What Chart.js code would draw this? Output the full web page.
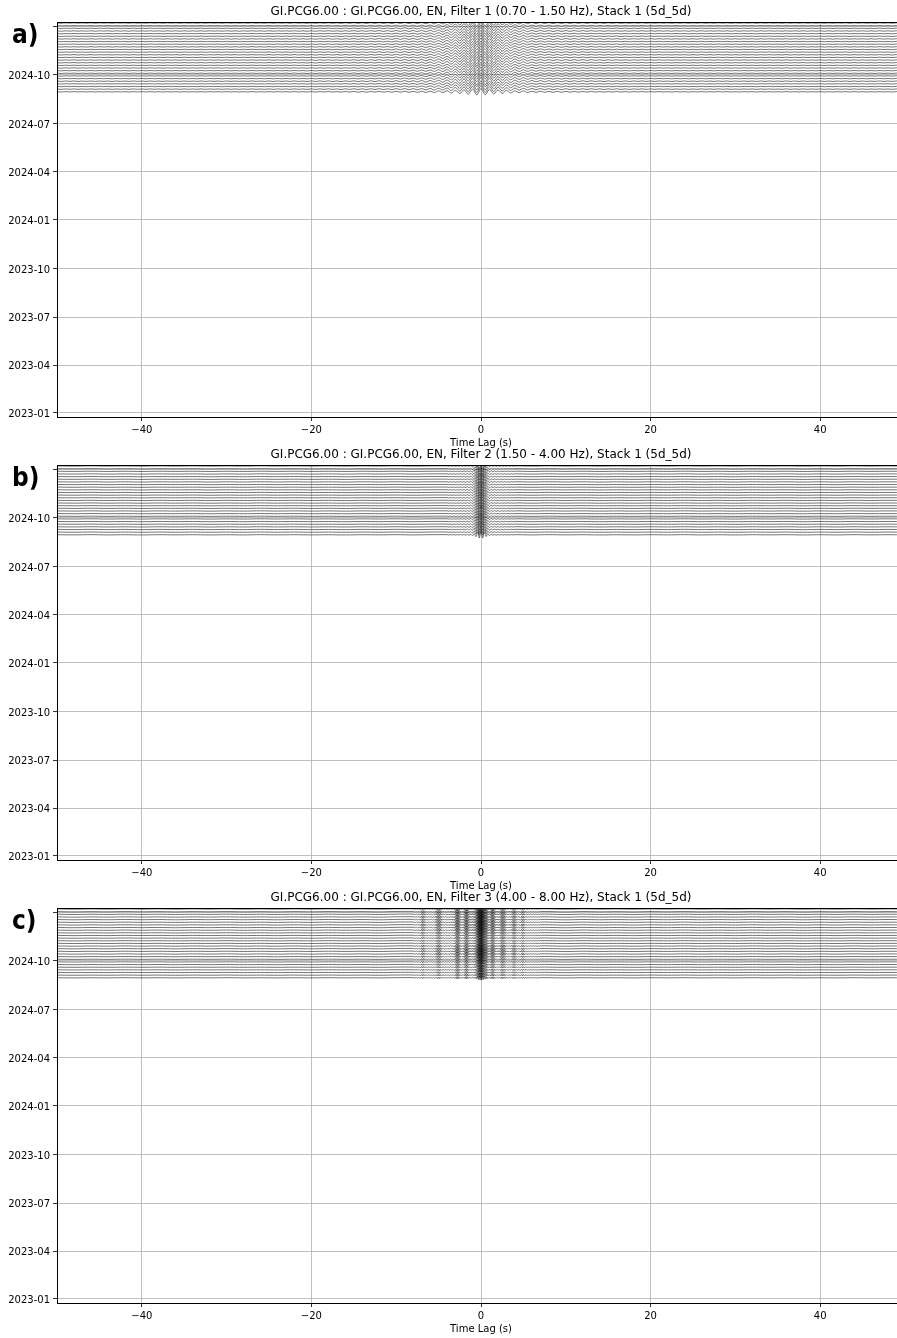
<!DOCTYPE html>
<html>
<head>
<meta charset="utf-8">
<script src="https://cdn.jsdelivr.net/npm/chart.js@4.4.1/dist/chart.umd.min.js"></script>
<style>
  html, body { margin: 0; padding: 0; background: #fff; overflow: hidden; width: 897px; height: 1338px; }
  .panel { position: absolute; left: 0; width: 905px; height: 449px; }
  .tag { position: absolute; left: 12px; font: bold 26px 'DejaVu Sans Condensed', 'DejaVu Sans', sans-serif; color: #000; line-height: 30px; z-index: 5; }
</style>
</head>
<body>
<div class="panel" style="top:0px"><canvas id="chartA"></canvas></div>
<div class="panel" style="top:443px"><canvas id="chartB"></canvas></div>
<div class="panel" style="top:886px"><canvas id="chartC"></canvas></div>
<div class="tag" style="top:19px">a)</div>
<div class="tag" style="top:462px">b)</div>
<div class="tag" style="top:905px">c)</div>
<script>
// ---- data ----
const titles = [
  'GI.PCG6.00 : GI.PCG6.00, EN, Filter 1 (0.70 - 1.50 Hz), Stack 1 (5d_5d)',
  'GI.PCG6.00 : GI.PCG6.00, EN, Filter 2 (1.50 - 4.00 Hz), Stack 1 (5d_5d)',
  'GI.PCG6.00 : GI.PCG6.00, EN, Filter 3 (4.00 - 8.00 Hz), Stack 1 (5d_5d)'
];

// stack dates (one trace each), bottom to top
const stackDates = [
  '2024-08-30', '2024-09-04', '2024-09-09', '2024-09-14', '2024-09-19', '2024-09-24',
  '2024-09-29', '2024-10-04', '2024-10-09', '2024-10-14', '2024-10-19', '2024-10-24',
  '2024-10-29', '2024-11-03', '2024-11-08', '2024-11-13', '2024-11-18', '2024-11-23',
  '2024-11-28', '2024-12-03', '2024-12-08', '2024-12-13', '2024-12-18', '2024-12-23',
  '2024-12-28', '2025-01-02', '2025-01-07'
];

const yTickDates = ['2023-01-01', '2023-04-01', '2023-07-01', '2023-10-01', '2024-01-01',
  '2024-04-01', '2024-07-01', '2024-10-01', '2025-01-01'];
const yTickLabels = ['2023-01', '2023-04', '2023-07', '2023-10', '2024-01',
  '2024-04', '2024-07', '2024-10', ''];
const yRange = ['2022-12-24', '2025-01-09'];

const xTicks = [-40, -20, 0, 20, 40];
const xRange = [-50, 50];

// Filter 1 correlation, samples every 0.5 s from -50 s
const wave1 = [
  0.05,-0.06,0.05,-0.04,0.06,-0.05,0.04,-0.05,0.06,-0.06,0.05,-0.04,0.05,-0.06,0.05,-0.04,0.05,-0.06,0.06,-0.05,
  0.04,-0.05,0.06,-0.05,0.05,-0.06,0.05,-0.04,0.05,-0.06,0.06,-0.05,0.04,-0.05,0.06,-0.06,0.05,-0.04,0.05,-0.06,
  0.06,-0.05,0.05,-0.06,0.05,-0.06,0.07,-0.05,0.04,-0.06,0.07,-0.07,0.06,-0.05,0.06,-0.07,0.08,-0.06,0.05,-0.08,
  0.07,-0.09,0.08,-0.07,0.09,-0.08,0.07,-0.10,0.09,-0.08,0.11,-0.10,0.09,-0.12,0.11,-0.10,0.13,-0.12,0.11,-0.14,
  0.16,-0.14,0.18,-0.16,0.15,-0.19,0.18,-0.21,0.20,-0.23,0.28,-0.27,0.33,-0.38,0.46,-0.54,0.62,-0.72,0.84,-0.93,
  1.00,
  -0.92,0.83,-0.70,0.60,-0.50,0.42,-0.35,0.30,-0.26,0.27,-0.22,0.20,-0.18,0.19,-0.16,0.15,-0.17,0.14,-0.16,0.14,
  -0.12,0.13,-0.11,0.12,-0.10,0.11,-0.09,0.08,-0.10,0.09,-0.08,0.09,-0.08,0.07,-0.08,0.07,-0.06,0.08,-0.07,0.07,
  -0.06,0.07,-0.05,0.05,-0.07,0.06,-0.05,0.06,-0.07,0.05,-0.06,0.07,-0.06,0.05,-0.06,0.07,-0.05,0.06,-0.07,0.05,
  -0.06,0.06,-0.04,0.05,-0.07,0.06,-0.05,0.06,-0.05,0.04,-0.06,0.07,-0.06,0.05,-0.05,0.06,-0.06,0.04,-0.05,0.06,
  -0.07,0.05,-0.06,0.05,-0.04,0.06,-0.07,0.06,-0.05,0.05,-0.06,0.04,-0.06,0.07,-0.05,0.05,-0.06,0.06,-0.04,0.05
];

// Filter 2: background every 2 s from -50 s, core every 0.2 s from -4 s
const wave2Bg = [
  0.03,-0.02,0.04,-0.03,0.02,-0.04,0.03,-0.02,0.03,-0.04,0.02,-0.03,0.04,-0.02,0.03,-0.03,0.02,-0.04,0.03,-0.02,
  0.04,-0.03,0.03,-0.04,0.05,0.00,-0.05,0.04,-0.03,0.04,-0.02,0.03,-0.04,0.02,-0.03,0.03,-0.02,0.04,-0.03,0.02,
  -0.04,0.03,-0.02,0.03,-0.04,0.02,-0.03,0.04,-0.02,0.03,-0.03
];
const wave2Core = [
  0.04,-0.05,0.05,-0.06,0.06,-0.07,0.07,-0.08,0.08,-0.09,
  0.10,-0.12,0.13,-0.15,0.18,-0.24,0.35,-0.55,0.80,-0.95,
  1.00,
  -0.94,0.78,-0.52,0.33,-0.22,0.17,-0.14,0.12,-0.11,0.10,
  -0.09,0.08,-0.08,0.07,-0.06,0.06,-0.05,0.05,-0.04,0.04
];

// Filter 3: background every 2 s from -50 s, core every 0.1 s from -8 s
const wave3Bg = [
  0.03,-0.04,0.02,-0.03,0.04,-0.02,0.03,-0.04,0.03,-0.02,0.04,-0.03,0.02,-0.04,0.03,-0.03,0.04,-0.02,0.03,-0.04,
  0.05,-0.04,0.06,-0.05,0.05,0.00,-0.05,0.05,-0.06,0.04,-0.05,0.04,-0.03,0.02,-0.04,0.03,-0.02,0.04,-0.03,0.02,
  -0.03,0.04,-0.02,0.03,-0.04,0.02,-0.03,0.04,-0.02,0.03,-0.03
];
const wave3Core = [
  0.06,-0.08,0.07,-0.05,0.08,-0.07,0.06,-0.09,0.10,-0.16,
  0.24,-0.28,0.26,-0.22,0.18,-0.12,0.09,-0.07,0.08,-0.06,
  0.09,-0.08,0.07,-0.10,0.08,-0.12,0.15,-0.20,0.26,-0.30,
  0.34,-0.32,0.28,-0.22,0.15,-0.11,0.09,-0.12,0.10,-0.08,
  0.11,-0.13,0.10,-0.12,0.14,-0.11,0.13,-0.15,0.12,-0.20,
  0.30,-0.40,0.45,-0.42,0.36,-0.25,0.17,-0.14,0.12,-0.15,
  0.22,-0.32,0.42,-0.46,0.40,-0.30,0.20,-0.16,0.18,-0.15,
  0.20,-0.18,0.22,-0.25,0.32,-0.45,0.62,-0.80,0.92,-0.98,
  1.00,
  -0.96,0.88,-0.72,0.55,-0.50,0.46,-0.38,0.25,-0.20,0.18,
  -0.22,0.32,-0.40,0.42,-0.36,0.28,-0.18,0.14,-0.12,0.15,
  -0.13,0.16,-0.24,0.32,-0.36,0.34,-0.28,0.30,-0.20,0.13,
  -0.11,0.12,-0.10,0.13,-0.11,0.16,-0.22,0.28,-0.30,0.27,
  -0.22,0.16,-0.11,0.09,-0.10,0.08,-0.16,0.22,-0.26,0.24,
  -0.20,0.14,-0.09,0.07,-0.08,0.06,-0.07,0.08,-0.06,0.07,
  -0.05,0.06,-0.07,0.05,-0.06,0.04,-0.05,0.06,-0.04,0.05
];

// per-trace amplitude (bottom to top)
const gainA = [0.95,1.05,1.0,0.9,1.1,1.0,0.95,1.05,1.0,1.0,0.9,1.05,1.1,0.95,1.0,1.0,1.05,0.95,0.9,1.0,1.1,1.0,0.95,1.05,1.0,0.95,1.0];
const gainB = [1.0,0.95,1.05,1.0,0.9,1.0,1.05,1.0,0.95,1.1,1.0,0.95,1.0,1.05,1.0,0.9,1.0,1.05,1.0,0.95,1.0,1.1,1.0,0.95,1.05,1.0,1.0];
const gainC = [0.7,0.75,0.8,0.7,0.75,0.85,0.8,0.9,1.0,1.1,1.15,1.1,1.0,0.9,0.85,0.9,0.95,1.0,1.1,1.15,1.2,1.15,1.2,1.1,1.15,1.2,1.1];

// ---- helpers ----
function dayNum(s) {
  const [y, m, d] = s.split('-').map(Number);
  return Date.UTC(y, m - 1, d) / 86400000;
}

function sampled(values, start, step) {
  return values.map((v, i) => ({ t: start + step * i, v: v }));
}

// background samples outside the core window, plus the core samples
function merged(bg, core, coreStart, coreStep) {
  const c = sampled(core, coreStart, coreStep);
  const lo = c[0].t, hi = c[c.length - 1].t;
  const b = sampled(bg, -50, 2).filter(p => p.t < lo || p.t > hi);
  return b.concat(c).sort((p, q) => p.t - q.t);
}

const samples = [
  sampled(wave1, -50, 0.5),
  merged(wave2Bg, wave2Core, -4, 0.2),
  merged(wave3Bg, wave3Core, -8, 0.1)
];
const gains = [gainA, gainB, gainC];
const ampDays = [6.5, 6.5, 6.5]; // trace amplitude in days of the y axis

// top/right spine and the title centred over the axes (like matplotlib)
const frameAndTitle = {
  id: 'frameAndTitle',
  afterDatasetsDraw(chart, args, opts) {
    const a = chart.chartArea, ctx = chart.ctx;
    ctx.save();
    ctx.strokeStyle = '#000';
    ctx.lineWidth = 1;
    ctx.strokeRect(a.left + 0.5, a.top + 0.5, a.right - a.left, a.bottom - a.top);
    ctx.fillStyle = '#000';
    ctx.font = "12px 'DejaVu Sans', sans-serif";
    ctx.textAlign = 'center';
    ctx.textBaseline = 'middle';
    ctx.fillText(opts.text, (a.left + a.right) / 2, 11.5);
    ctx.restore();
  }
};

Chart.defaults.font.family = "'DejaVu Sans', sans-serif";
Chart.defaults.font.size = 10;
Chart.defaults.color = '#000';

function makePanel(id, k) {
  const datasets = stackDates.map((d, j) => {
    const base = dayNum(d);
    return {
      data: samples[k].map(p => ({ x: p.t, y: base + p.v * gains[k][j] * ampDays[k] })),
      borderColor: 'rgba(0,0,0,0.85)',
      borderWidth: 0.65,
      pointRadius: 0,
      tension: 0.3,
      fill: false
    };
  });

  return new Chart(document.getElementById(id), {
    type: 'line',
    data: { datasets },
    plugins: [frameAndTitle],
    options: {
      responsive: true,
      maintainAspectRatio: false,
      animation: false,
      parsing: false,
      layout: { padding: { top: 22, left: 0, right: 0, bottom: 0 } },
      plugins: {
        legend: { display: false },
        tooltip: { enabled: false },
        title: { display: false },
        frameAndTitle: { text: titles[k] }
      },
      scales: {
        x: {
          type: 'linear',
          min: xRange[0],
          max: xRange[1],
          afterBuildTicks: s => { s.ticks = xTicks.map(v => ({ value: v })); },
          afterFit: s => { s.height = 32; },
          ticks: {
            padding: 3,
            maxRotation: 0,
            callback: v => String(v).replace('-', '\u2212')
          },
          grid: { color: '#b0b0b0', lineWidth: 0.8, tickLength: 4, tickColor: '#000' },
          border: { display: true, color: '#000', width: 1 },
          title: { display: true, text: 'Time Lag (s)', font: { size: 10 }, padding: { top: 0, bottom: 0 } }
        },
        y: {
          type: 'linear',
          min: dayNum(yRange[0]),
          max: dayNum(yRange[1]),
          afterBuildTicks: s => { s.ticks = yTickDates.map(d => ({ value: dayNum(d) })); },
          afterFit: s => { s.width = 57; },
          ticks: {
            padding: 3,
            labelOffset: 1.5,
            callback: (v, i) => yTickLabels[i]
          },
          grid: { color: '#b0b0b0', lineWidth: 0.8, tickLength: 4, tickColor: '#000' },
          border: { display: true, color: '#000', width: 1 }
        }
      }
    }
  });
}

makePanel('chartA', 0);
makePanel('chartB', 1);
makePanel('chartC', 2);
</script>
</body>
</html>
